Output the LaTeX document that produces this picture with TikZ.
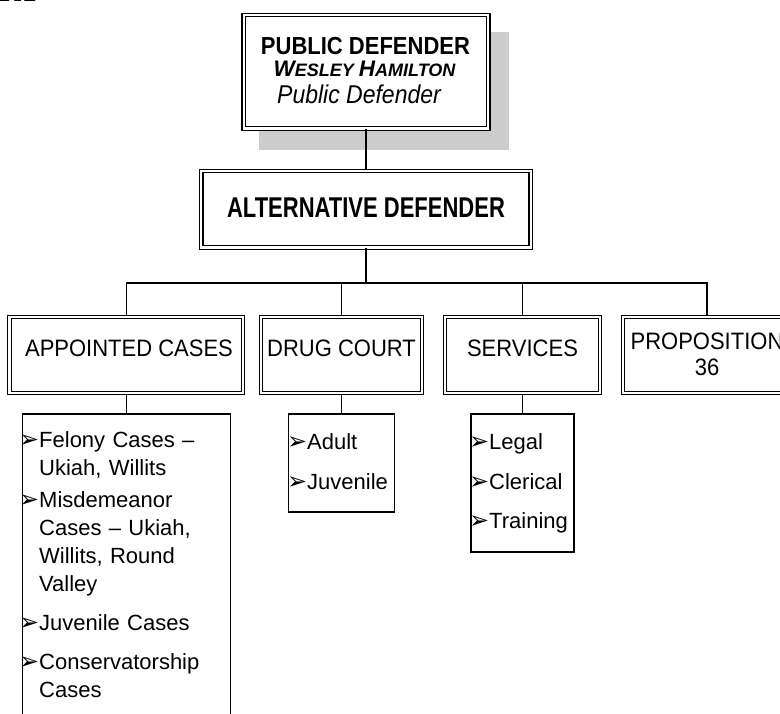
\documentclass[tikz,border=0pt]{standalone}
\usepackage{fontspec}
\setmainfont{Liberation Sans}
\newfontfamily\dejavu{DejaVu Sans}
\newfontfamily\serifb{Liberation Serif}
\definecolor{shadowc}{RGB}{204,204,204}
\newcommand{\bul}{\raisebox{-0.5pt}{\dejavu\fontsize{24}{24}\selectfont ➢}}
\newcommand{\fsz}[1]{\fontsize{#1}{#1}\selectfont}
\begin{document}
\begin{tikzpicture}[x=1pt,y=-1pt,
 dbox/.style={draw, double, double distance=2.2pt, line width=1.3pt, fill=white, inner sep=0pt, rectangle},
 sbox/.style={draw, line width=1.3pt, fill=white, inner sep=0pt, rectangle},
 conn/.style={line width=1.3pt},
 hd/.style={inner sep=0pt, anchor=base, font=\bfseries\fsz{22}},
 lvl/.style={inner sep=0pt, anchor=base, font=\fsz{22}},
 item/.style={inner sep=0pt, anchor=base west, text width=200pt, align=left, font=\fontsize{22}{28}\selectfont}]
\useasboundingbox (0,0) rectangle (780,713);
\clip (0,0) rectangle (780,713);
% title fragment
\node[inner sep=0pt, anchor=base west, font=\serifb\bfseries\fsz{30}] (ttl) at (-1,1.5) {RT};
% shadow
\fill[shadowc] (259,32) rectangle (509,150);
% boxes
\node[dbox, minimum width=244.5pt, minimum height=113.5pt] (pd) at (366,71.75) {};
\node[dbox, minimum width=329.5pt, minimum height=76.5pt] (alt) at (366,209.25) {};
\node[dbox, minimum width=233.5pt, minimum height=76pt] (app) at (126.25,355) {};
\node[dbox, minimum width=161pt, minimum height=76pt] (drug) at (341.5,355) {};
\node[dbox, minimum width=155pt, minimum height=76pt] (serv) at (522.5,355) {};
\node[dbox, minimum width=168pt, minimum height=76pt] (prop) at (707,355) {};
\node[sbox, minimum width=208pt, minimum height=330pt] (applist) at (126.25,579) {};
\node[sbox, minimum width=106pt, minimum height=98pt] (druglist) at (341.5,463) {};
\node[sbox, minimum width=103pt, minimum height=138pt] (servlist) at (522.5,483) {};
% connectors
\coordinate (bus) at (366,283);
\draw[conn] (pd.south) -- (alt.north);
\draw[conn] (alt.south) -- (bus);
\draw[conn] (app.north) |- (bus) -| (prop.north);
\draw[conn] (drug.north) -- (drug.north |- bus);
\draw[conn] (serv.north) -- (serv.north |- bus);
\draw[conn] (app.south) -- (applist.north);
\draw[conn] (drug.south) -- (druglist.north);
\draw[conn] (serv.south) -- (servlist.north);
% texts
\node[hd] (pdt) at (365.5,54) {\scalebox{1}[1.12]{PUBLIC DEFENDER}};
\node[inner sep=0pt, anchor=base, font=\bfseries\itshape] (pdn) at (364.5,76) {\fsz{22.5}W\fsz{18}ESLEY \fsz{22.5}H\fsz{18}AMILTON};
\node[inner sep=0pt, anchor=base, font=\itshape\fsz{23}] (pdr) at (359,103) {\scalebox{1}[1.12]{Public Defender}};
\node[hd] (altt) at (366,217) {\scalebox{1}[1.3]{ALTERNATIVE DEFENDER}};
\node[lvl] (appt) at (129,356) {\scalebox{1}[1.08]{APPOINTED CASES}};
\node[lvl] (drugt) at (341.5,356) {\scalebox{1}[1.08]{DRUG COURT}};
\node[lvl] (servt) at (522.5,356) {\scalebox{1}[1.08]{SERVICES}};
\node[lvl] (propt) at (707,349) {\scalebox{1}[1.08]{PROPOSITION}};
\node[lvl] (propn) at (707,375) {\scalebox{1}[1.08]{36}};
% list items
\node[item] (i1) at (39,447) {\llap{\bul}Felony Cases –\\Ukiah, Willits};
\node[item] (i2) at (39,507) {\llap{\bul}Misdemeanor\\Cases – Ukiah,\\Willits, Round\\Valley};
\node[item] (i3) at (39,630) {\llap{\bul}Juvenile Cases};
\node[item] (i4) at (39,669) {\llap{\bul}Conservatorship\\Cases};
\node[item] (d1) at (307,449) {\llap{\bul}Adult};
\node[item] (d2) at (307,489) {\llap{\bul}Juvenile};
\node[item] (s1) at (489,449) {\llap{\bul}Legal};
\node[item] (s2) at (489,489) {\llap{\bul}Clerical};
\node[item] (s3) at (489,528) {\llap{\bul}Training};
\end{tikzpicture}
\end{document}
